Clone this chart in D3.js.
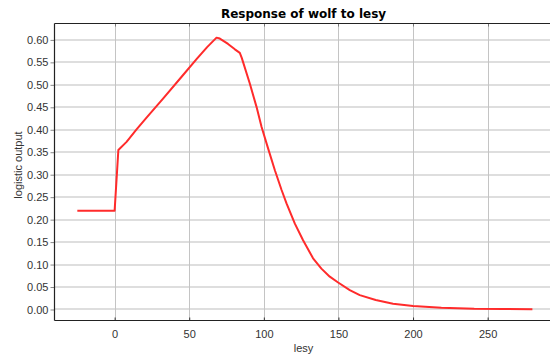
<!DOCTYPE html>
<html>
<head>
<meta charset="utf-8">
<script src="https://cdn.jsdelivr.net/npm/d3@7"></script>
<style>
  html, body { margin: 0; padding: 0; background: #fff; }
  svg { display: block; }
</style>
</head>
<body>
<svg id="chart" width="550" height="356"></svg>
<script>
// ---- data ----
const lesy = [-25, 0, 2.5, 8, 14.7, 21.4, 32.6, 44.9, 54.9, 62, 68.3, 70.5, 76, 80.6, 83.9, 85.2,
  90.6, 95.1, 98.5, 102.9, 107.4, 111.9, 115.2, 120.8, 126.3, 133, 138.6, 144.2, 149.8,
  157.6, 164.3, 175, 186.6, 200, 219, 241, 260, 280];
const logisticOutput = [0.22, 0.22, 0.355, 0.373, 0.401, 0.427, 0.47, 0.518, 0.557, 0.584, 0.605, 0.603, 0.591, 0.579, 0.571, 0.56,
  0.503, 0.451, 0.406, 0.358, 0.31, 0.266, 0.236, 0.191, 0.154, 0.114, 0.091, 0.073, 0.06,
  0.043, 0.032, 0.021, 0.013, 0.008, 0.004, 0.0015, 0.001, 0.0005];
const xTicks = [0, 50, 100, 150, 200, 250];
const yTicks = [0, 0.05, 0.10, 0.15, 0.20, 0.25, 0.30, 0.35, 0.40, 0.45, 0.50, 0.55, 0.60];
const titleText = "Response of wolf to lesy";
const xLabel = "lesy";
const yLabel = "logistic output";

// ---- layout ----
const pLeft = 54.5, pRight = 550.3, pTop = 23.5, pBottom = 320.5;
const svg = d3.select("#chart");
const font = "'Liberation Sans', Arial, sans-serif";

const x = d3.scaleLinear().domain([-40.3, 292]).range([pLeft, pRight]);
const y = d3.scaleLinear().domain([-0.0245, 0.6365]).range([pBottom, pTop]);

// gridlines
svg.append("g").selectAll("line").data(yTicks).join("line")
  .attr("x1", pLeft).attr("x2", pRight)
  .attr("y1", d => Math.round(y(d))).attr("y2", d => Math.round(y(d)))
  .attr("stroke", "#dedede").attr("stroke-width", 2);
svg.append("g").selectAll("line").data(xTicks).join("line")
  .attr("x1", d => Math.round(x(d)) + 0.5).attr("x2", d => Math.round(x(d)) + 0.5)
  .attr("y1", pTop).attr("y2", pBottom)
  .attr("stroke", "#c4c4c4").attr("stroke-width", 1);

// top inner ticks
svg.append("g").selectAll("line").data(xTicks).join("line")
  .attr("x1", d => Math.round(x(d)) + 0.5).attr("x2", d => Math.round(x(d)) + 0.5)
  .attr("y1", pTop).attr("y2", pTop + 3)
  .attr("stroke", "#777").attr("stroke-width", 1);

// curve
const pts = lesy.map((v, i) => [v, logisticOutput[i]]);
svg.append("path")
  .datum(pts)
  .attr("fill", "none")
  .attr("stroke", "#ff2b2b")
  .attr("stroke-width", 2)
  .attr("stroke-linejoin", "round")
  .attr("d", d3.line().x(d => x(d[0])).y(d => y(d[1])));

// axes
const yAxis = svg.append("g")
  .attr("transform", `translate(${pLeft},0)`)
  .call(d3.axisLeft(y).tickValues(yTicks).tickFormat(d3.format(".2f")).tickSize(4).tickPadding(2));
const xAxis = svg.append("g")
  .attr("transform", `translate(0,${pBottom})`)
  .call(d3.axisBottom(x).tickValues(xTicks).tickFormat(d3.format("d")).tickSize(-3).tickPadding(10));
[yAxis, xAxis].forEach(g => {
  g.select(".domain").remove();
  g.selectAll("text").attr("font-family", font).attr("font-size", 11).attr("fill", "#333");
});
yAxis.selectAll(".tick line").attr("stroke", "#888");
xAxis.selectAll(".tick line").attr("stroke", "#333");

// borders
svg.append("line").attr("x1", pLeft).attr("x2", pLeft).attr("y1", pTop).attr("y2", pBottom)
  .attr("stroke", "#222").attr("stroke-width", 1.2);
svg.append("line").attr("x1", pLeft).attr("x2", 550).attr("y1", pBottom).attr("y2", pBottom)
  .attr("stroke", "#222").attr("stroke-width", 1.2);
svg.append("line").attr("x1", pLeft).attr("x2", 550).attr("y1", pTop).attr("y2", pTop)
  .attr("stroke", "#222").attr("stroke-width", 1.2);

// title
svg.append("text")
  .attr("x", 303.5).attr("y", 18)
  .attr("text-anchor", "middle")
  .attr("font-family", "'DejaVu Sans', sans-serif")
  .attr("font-weight", "bold").attr("font-size", 12)
  .attr("fill", "#000")
  .text(titleText);

// axis labels
svg.append("text")
  .attr("x", 303.5).attr("y", 352)
  .attr("text-anchor", "middle")
  .attr("font-family", font).attr("font-size", 11).attr("fill", "#333")
  .text(xLabel);
svg.append("text")
  .attr("transform", "translate(22,165) rotate(-90)")
  .attr("text-anchor", "middle")
  .attr("font-family", font).attr("font-size", 11).attr("fill", "#333")
  .text(yLabel);
</script>
</body>
</html>
